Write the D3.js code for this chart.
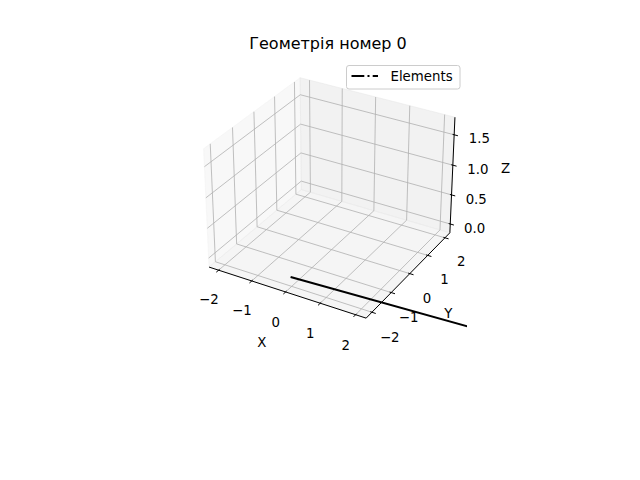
<!DOCTYPE html>
<html><head><meta charset="utf-8">
<script src="https://cdn.jsdelivr.net/npm/d3@7"></script>
<style>
body{margin:0;background:#fff}
svg{display:block}
text{font-family:"DejaVu Sans",sans-serif;fill:#000}
</style>
</head><body>
<svg id="chart" width="640" height="480"></svg>
<script>
// ---------- data ----------
const titleText = "Геометрія номер 0";
const seriesName = "Elements";
const xLimits = [-2.2917, 2.2917];
const yLimits = [-2.2917, 2.2917];
const zLimits = [-0.153, 1.784];
const xTickValues = [-2, -1, 0, 1, 2];
const yTickValues = [-2, -1, 0, 1, 2];
const zTickValues = [0, 0.5, 1.0, 1.5];
const xTickLabels = ["−2", "−1", "0", "1", "2"];
const yTickLabels = ["−2", "−1", "0", "1", "2"];
const zTickLabels = ["0.0", "0.5", "1.0", "1.5"];
const axisNames = ["X", "Y", "Z"];
const elementX = [0, 6];
const elementY = [-2, -1.66];
const elementZ = [0, 0];

// ---------- projection (matplotlib-like 3D view) ----------
const elev = 30 * Math.PI / 180, azim = -60 * Math.PI / 180, dist = 10;
const box = [8 / 7, 8 / 7, 6 / 7];
const k = 1575, cx = 331.6, cy = 192.4;

const bx = d3.scaleLinear().domain(xLimits).range([-box[0] / 2, box[0] / 2]);
const by = d3.scaleLinear().domain(yLimits).range([-box[1] / 2, box[1] / 2]);
const bz = d3.scaleLinear().domain(zLimits).range([-box[2] / 2, box[2] / 2]);
const sx = d3.scaleLinear().domain([-0.1, 0.1]).range([cx - 0.1 * k, cx + 0.1 * k]);
const sy = d3.scaleLinear().domain([-0.1, 0.1]).range([cy + 0.1 * k, cy - 0.1 * k]);

const dot = (a, b) => a[0] * b[0] + a[1] * b[1] + a[2] * b[2];
const cross = (a, b) => [a[1] * b[2] - a[2] * b[1], a[2] * b[0] - a[0] * b[2], a[0] * b[1] - a[1] * b[0]];
const norm = a => { const l = Math.hypot(a[0], a[1], a[2]); return [a[0] / l, a[1] / l, a[2] / l]; };
const W = [Math.cos(elev) * Math.cos(azim), Math.cos(elev) * Math.sin(azim), Math.sin(elev)];
const U = norm(cross([0, 0, 1], W));
const V = cross(W, U);

function proj(x, y, z) {
  const q = [bx(x), by(y), bz(z)];
  const xv = dot(U, q), yv = dot(V, q), zv = dot(W, q) - dist;
  return [sx(xv / -zv), sy(yv / -zv)];
}
const line2 = d3.line();

const svg = d3.select("#chart");
const [x0, x1] = xLimits, [y0, y1] = yLimits, [z0, z1] = zLimits;

// ---------- panes ----------
const panes = [
  {pts: [[x0, y0, z0], [x0, y1, z0], [x0, y1, z1], [x0, y0, z1]], c: "#f2f2f2"},
  {pts: [[x0, y1, z0], [x1, y1, z0], [x1, y1, z1], [x0, y1, z1]], c: "#e6e6e6"},
  {pts: [[x0, y0, z0], [x1, y0, z0], [x1, y1, z0], [x0, y1, z0]], c: "#ececec"}
];
svg.append("g").selectAll("path").data(panes).join("path")
  .attr("d", p => line2(p.pts.map(d => proj(...d))) + "Z")
  .attr("fill", p => p.c).attr("fill-opacity", 0.5)
  .attr("stroke", p => p.c).attr("stroke-opacity", 0.5).attr("stroke-width", 1);

// ---------- grid ----------
const grid = svg.append("g").attr("fill", "none").attr("stroke", "#b0b0b0").attr("stroke-width", 0.8);
xTickValues.forEach(t => grid.append("path").attr("d", line2([[t, y0, z0], [t, y1, z0], [t, y1, z1]].map(d => proj(...d)))));
yTickValues.forEach(t => grid.append("path").attr("d", line2([[x0, t, z1], [x0, t, z0], [x1, t, z0]].map(d => proj(...d)))));
zTickValues.forEach(t => grid.append("path").attr("d", line2([[x1, y1, t], [x0, y1, t], [x0, y0, t]].map(d => proj(...d)))));

// ---------- axes ----------
const ax = svg.append("g");
const axLine = (a, b) => ax.append("path").attr("d", line2([proj(...a), proj(...b)]))
  .attr("stroke", "#000").attr("stroke-width", 1).attr("fill", "none");
axLine([x0, y0, z0], [x1, y0, z0]);
axLine([x1, y0, z0], [x1, y1, z0]);
axLine([x1, y1, z0], [x1, y1, z1]);

const dxr = (x1 - x0) / 12, dyr = (y1 - y0) / 12;
const tOut = 0.28, tIn = 0.12;
xTickValues.forEach(t => axLine([t, y0 - tOut * dyr, z0], [t, y0 + tIn * dyr, z0]));
yTickValues.forEach(t => axLine([x1 + tOut * dxr, t, z0], [x1 - tIn * dxr, t, z0]));
zTickValues.forEach(t => axLine([x1 + tOut * dxr, y1, t], [x1 - tIn * dxr, y1, t]));

const label = (p, s, size) => ax.append("text").attr("x", p[0]).attr("y", p[1])
  .attr("text-anchor", "middle").attr("dy", "0.36em").attr("font-size", size || 13.33).text(s);
xTickValues.forEach((t, i) => label(proj(t, y0 - 0.489, z0 - 0.3436), xTickLabels[i]));
yTickValues.forEach((t, i) => label(proj(x1 + 0.505, t, z0 - 0.321), yTickLabels[i]));
zTickValues.forEach((t, i) => label(proj(x1 + 0.646, y1 + 0.138, t), zTickLabels[i]));
label(proj((x0 + x1) / 2, y0 - 1.151, z0 - 0.47), axisNames[0]);
label(proj(x1 + 1.123, (y0 + y1) / 2, z0 - 0.47), axisNames[1]);
label(proj(x1 + 1.018, y1 + 1.07, (z0 + z1) / 2), axisNames[2]);

// ---------- data line ----------
svg.append("clipPath").attr("id", "axclip").append("rect")
  .attr("x", 150).attr("y", 40).attr("width", 467 - 150).attr("height", 400);
const pts = elementX.map((x, i) => proj(x, elementY[i], elementZ[i]));
svg.append("path").attr("clip-path", "url(#axclip)")
  .attr("d", line2(pts)).attr("fill", "none").attr("stroke", "#000")
  .attr("stroke-width", 2).attr("stroke-linecap", "square");

// ---------- legend ----------
const lg = svg.append("g");
lg.append("rect").attr("x", 346.5).attr("y", 65.5).attr("width", 113.5).attr("height", 23.5)
  .attr("rx", 2.5).attr("fill", "#fff").attr("fill-opacity", 0.8)
  .attr("stroke", "#cccccc").attr("stroke-width", 1);
lg.append("line").attr("x1", 351.5).attr("x2", 378).attr("y1", 76).attr("y2", 76)
  .attr("stroke", "#000").attr("stroke-width", 2).attr("stroke-dasharray", "12.8,3.2,2,3.2");
lg.append("text").attr("x", 390.5).attr("y", 76).attr("dy", "0.36em").attr("font-size", 13.33).text(seriesName);

// ---------- title ----------
svg.append("text").attr("x", 328).attr("y", 43).attr("dy", "0.36em").attr("text-anchor", "middle")
  .attr("font-size", 16).text(titleText);
</script>
</body></html>
